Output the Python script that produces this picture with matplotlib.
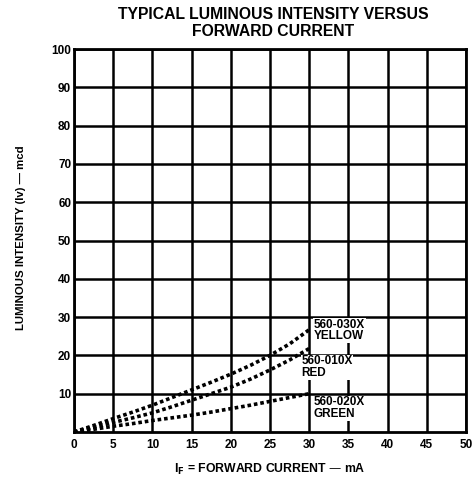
import matplotlib
matplotlib.use("Agg")
import matplotlib.pyplot as plt

current_ma = [0, 2.5, 5, 7.5, 10, 12.5, 15, 17.5, 20, 22.5, 25, 27.5, 30]
yellow = [0, 1.7, 3.5, 5.2, 7.0, 9.0, 11.0, 13.0, 15.1, 17.4, 20.0, 23.0, 26.7]
red = [0, 1.2, 2.5, 3.7, 5.0, 6.6, 8.3, 10.0, 11.7, 13.8, 16.2, 18.8, 21.8]
green = [0, 0.7, 1.5, 2.2, 3.0, 3.7, 4.4, 5.2, 6.1, 7.0, 8.0, 9.0, 10.0]

labels = ["560-030X\nYELLOW", "560-010X\nRED", "560-020X\nGREEN"]
label_pos = [(30.6, 29.6), (29.0, 20.0), (30.6, 9.3)]

x_ticks = [0, 5, 10, 15, 20, 25, 30, 35, 40, 45, 50]
y_ticks = [10, 20, 30, 40, 50, 60, 70, 80, 90, 100]

plt.rcParams['font.family'] = ['Liberation Sans', 'DejaVu Sans']
plt.rcParams['font.weight'] = 'bold'

fig = plt.figure(figsize=(4.76, 4.84), dpi=100)
ax = fig.add_axes([74/476, 1-432/484, (466-74)/476, (432-49)/484])

ax.set_xlim(0, 50)
ax.set_ylim(0, 100)
ax.set_xticks(x_ticks)
ax.set_yticks(y_ticks)
ax.tick_params(length=0, labelsize=8.5, pad=5)
ax.tick_params(axis='y', pad=2)
for lab in ax.get_xticklabels() + ax.get_yticklabels():
    lab.set_fontweight('bold')
ax.grid(True, color='black', linewidth=1.8)
ax.set_axisbelow(True)
for s in ax.spines.values():
    s.set_linewidth(2.0)
    s.set_color('black')

for series in (yellow, red, green):
    ax.plot(current_ma, series, color='black', linestyle=(0, (1, 0.8)),
            linewidth=2.6, solid_capstyle='butt', zorder=3)

for text, (tx, ty) in zip(labels, label_pos):
    ax.text(tx, ty, text, fontsize=8.5, fontweight='bold', va='top', ha='left',
            linespacing=0.95,
            bbox=dict(facecolor='white', edgecolor='none', pad=0.5), zorder=4)

fig.text(273/476, 1-23/484, "TYPICAL LUMINOUS INTENSITY VERSUS\nFORWARD CURRENT",
         ha='center', va='center', fontsize=11.3, fontweight='bold', linespacing=1.1)
ax.set_xlabel("I$_\\mathbf{F}$ = FORWARD CURRENT \u2014 mA", fontsize=8.8,
              fontweight='bold', labelpad=8)
fig.text(21/476, 1-238/484, "LUMINOUS INTENSITY (Iv) \u2014 mcd", rotation=90,
         ha='center', va='center', fontsize=8.2, fontweight='bold')

fig.savefig("out.png", dpi=100)
